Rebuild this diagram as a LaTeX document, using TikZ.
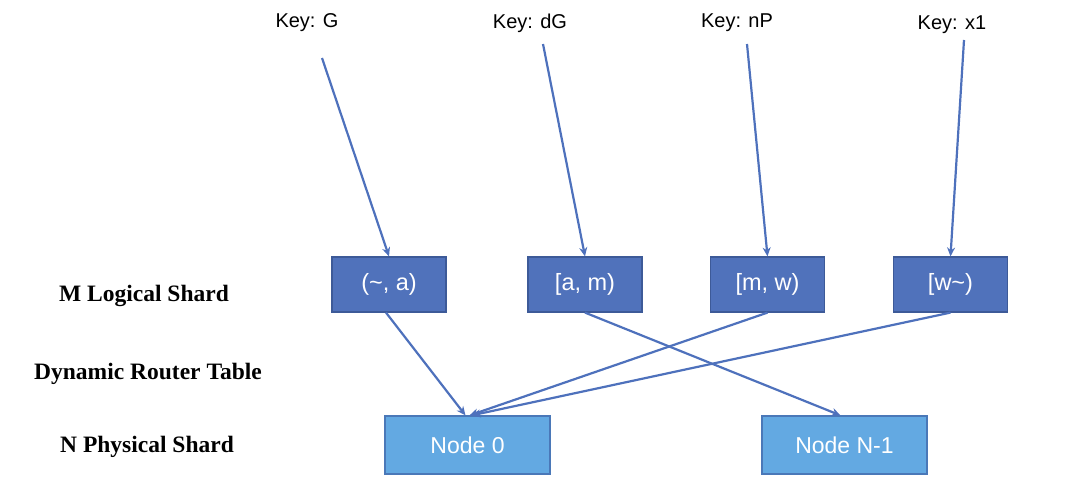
\documentclass[tikz,border=0pt]{standalone}
\usepackage{fontspec}
\setmainfont{Liberation Sans}
\newfontfamily\labelfont{Liberation Serif}
\usetikzlibrary{arrows.meta}
\definecolor{arrowblue}{HTML}{4E71BC}
\definecolor{shardfill}{HTML}{5072BB}
\definecolor{sharddraw}{HTML}{3D5A98}
\definecolor{nodefill}{HTML}{63A9E2}
\definecolor{nodedraw}{HTML}{4A78B8}
\tikzset{
  keytext/.style={font=\fontsize{20}{24}\selectfont, text=black, inner sep=0pt},
  shardbox/.style={draw=sharddraw, fill=shardfill, line width=1.2pt, minimum width=114pt, minimum height=55pt, text=white, font=\fontsize{23.5}{28}\selectfont, inner sep=0pt},
  physbox/.style={draw=nodedraw, fill=nodefill, line width=1.2pt, minimum width=165pt, minimum height=58pt, text=white, font=\fontsize{23}{28}\selectfont, inner sep=0pt},
  rowlabel/.style={font=\labelfont\bfseries\fontsize{23.5}{28}\selectfont, text=black, inner sep=0pt},
  conn/.style={draw=arrowblue, line width=2.2pt, -{Stealth[length=9pt,width=8pt]}}
}
\begin{document}
\begin{tikzpicture}[x=1pt,y=-1pt]
\useasboundingbox (0,0) rectangle (1080,487);
% keys
\node[keytext] (kG) at (307,23) {Key: G};
\node[keytext] (kdG) at (530,23) {Key: dG};
\node[keytext] (knP) at (737,23) {Key: nP};
\node[keytext] (kx1) at (952,25) {Key: x1};
\coordinate (sG) at (322,58);
\coordinate (sdG) at (543,44);
\coordinate (snP) at (747,44);
\coordinate (sx1) at (964,40);
% logical shards
\node[shardbox] (s1) at (389,284.5) {(\char"7E, a)};
\node[shardbox] (s2) at (585,284.5) {[a, m)};
\node[shardbox] (s3) at (767.5,284.5) {[m, w)};
\node[shardbox] (s4) at (950.5,284.5) {[w\char"7E)};
% physical shards
\node[physbox] (n0) at (467.5,445) {Node 0};
\node[physbox] (n1) at (844.5,445) {Node N-1};
% row labels
\node[rowlabel] (l1) at (144,296) {M Logical Shard};
\node[rowlabel] (l2) at (148,374) {Dynamic Router Table};
\node[rowlabel] (l3) at (147,447) {N Physical Shard};
% connectors
\draw[conn] (sG) -- (s1.north);
\draw[conn] (sdG) -- (s2.north);
\draw[conn] (snP) -- (s3.north);
\draw[conn] (sx1) -- (s4.north);
\draw[conn] ([xshift=-3pt]s1.south) -- ([xshift=-2pt]n0.north);
\draw[conn] (s2.south) -- ([xshift=-4pt]n1.north);
\draw[conn] (s3.south) -- ([xshift=2pt]n0.north);
\draw[conn] (s4.south) -- ([xshift=4pt]n0.north);
\end{tikzpicture}
\end{document}
